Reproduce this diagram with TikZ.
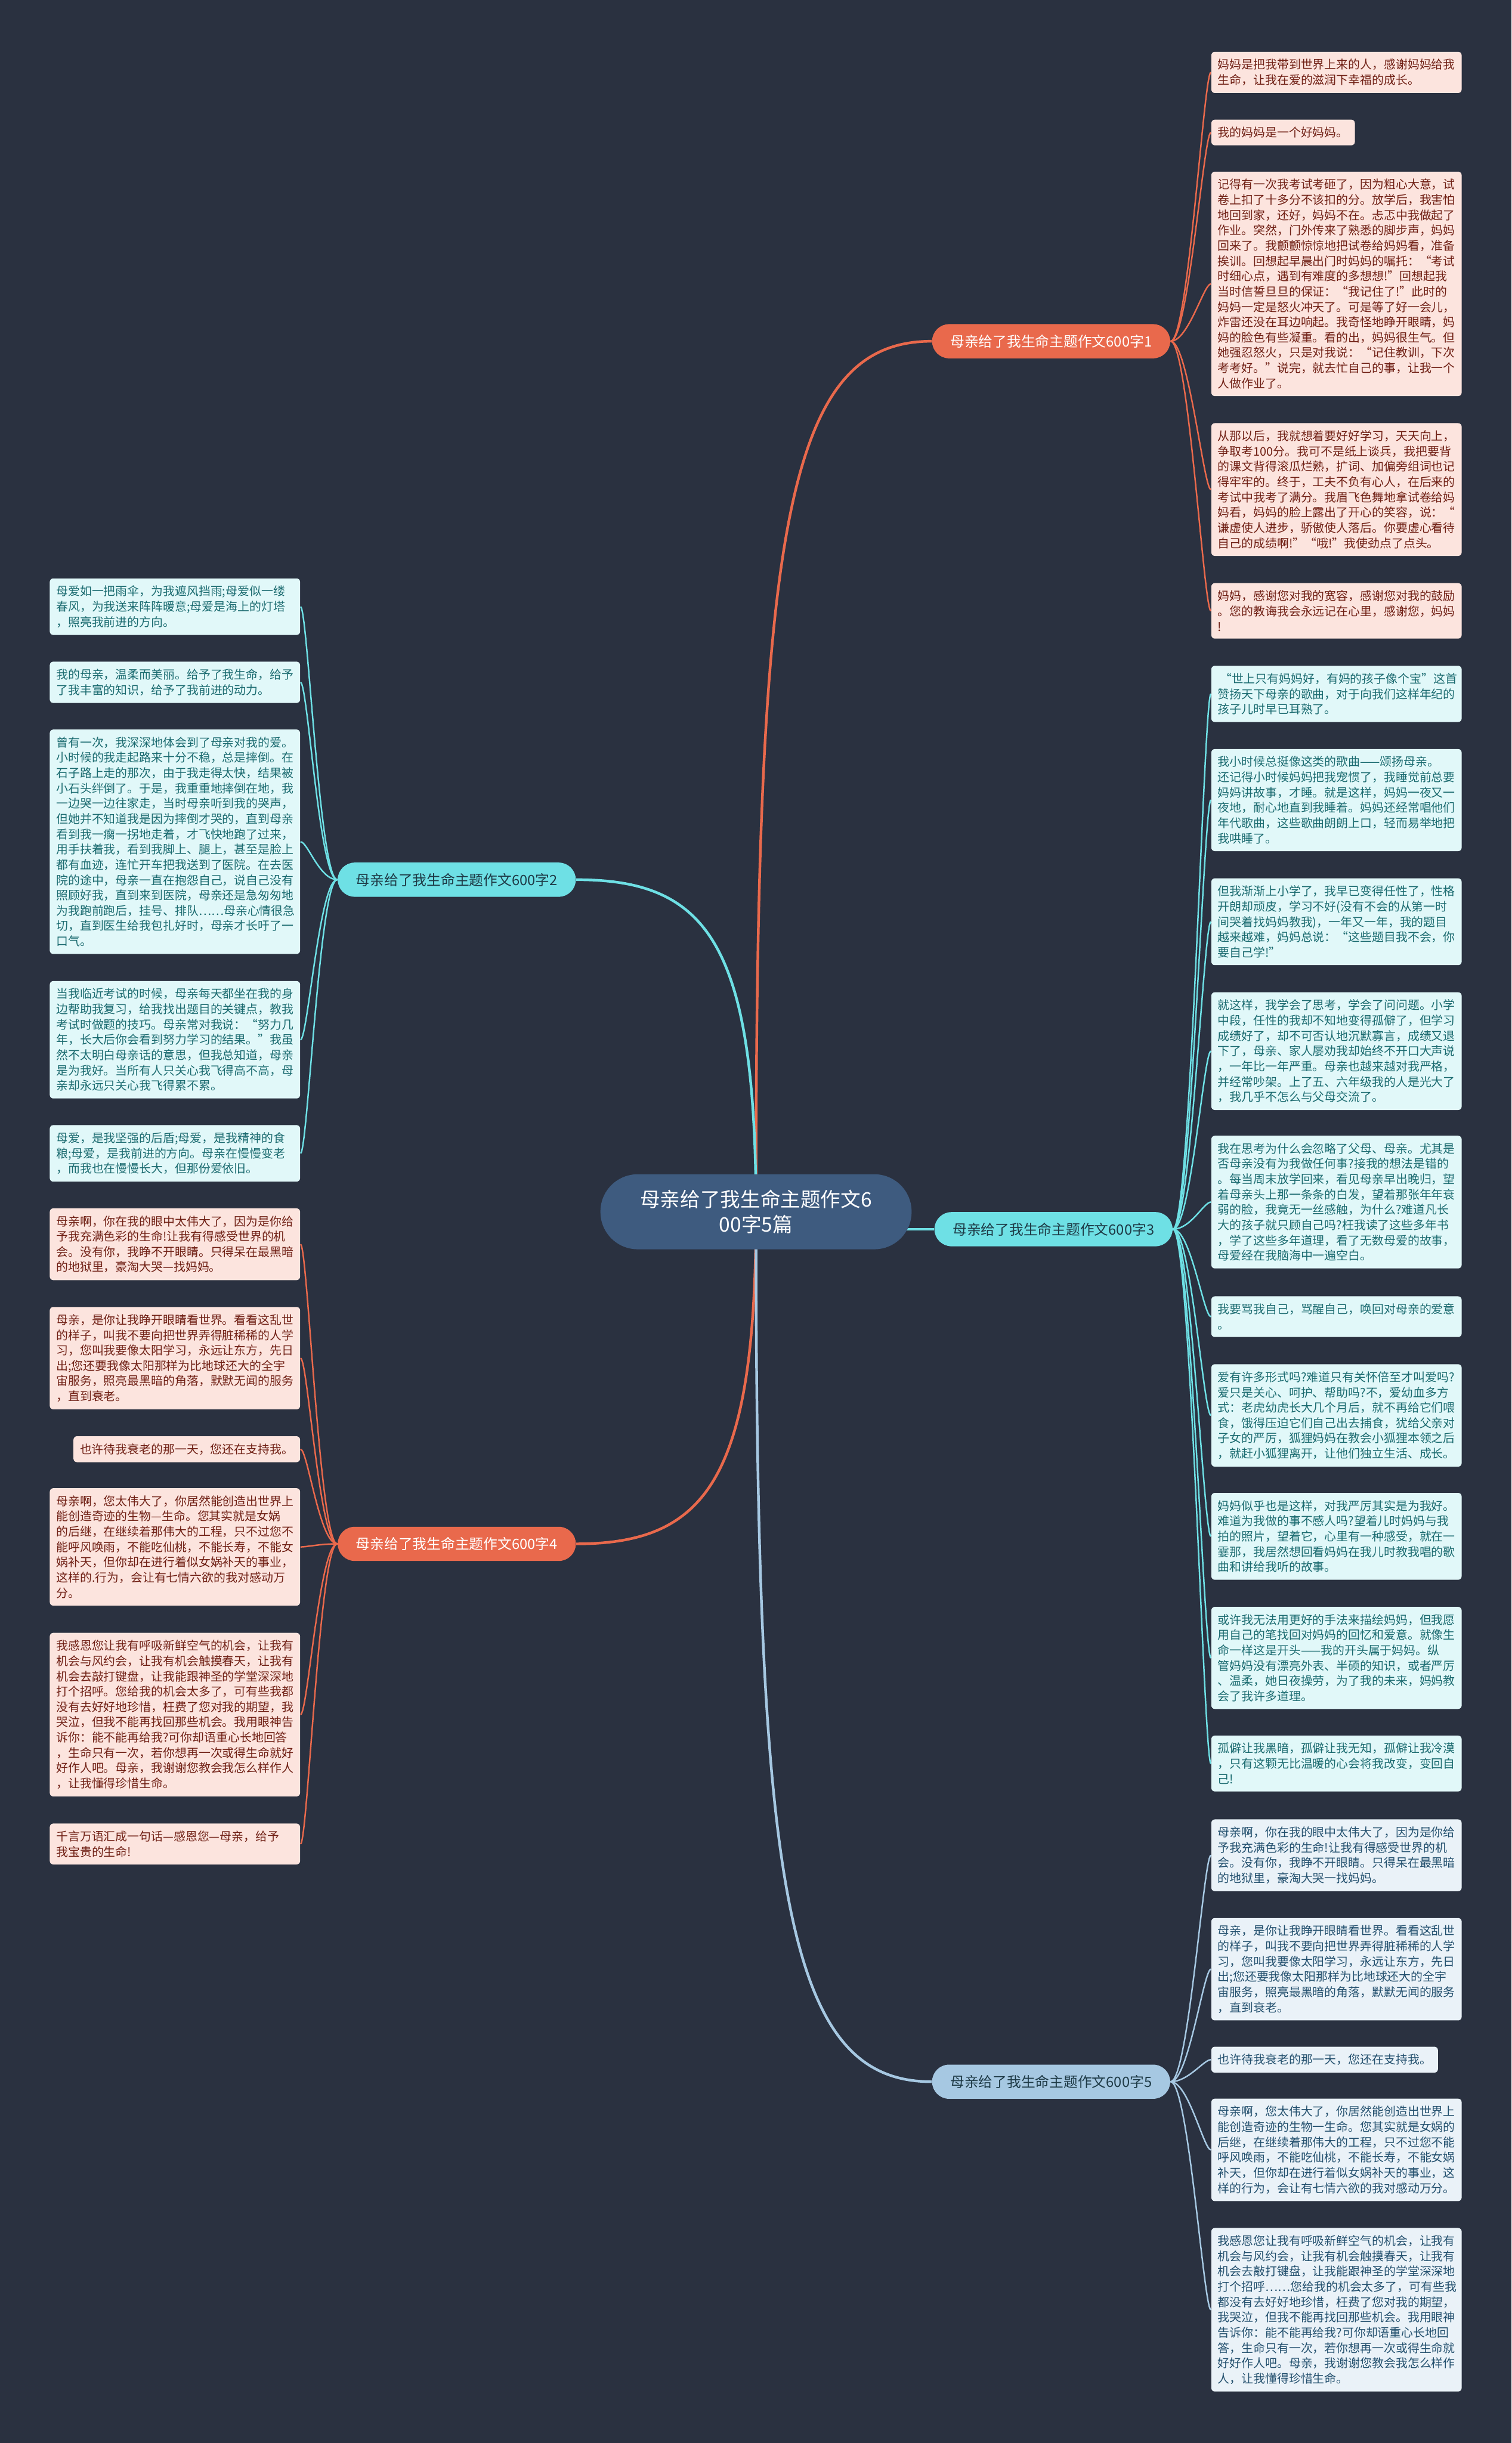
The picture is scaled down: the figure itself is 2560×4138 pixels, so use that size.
\documentclass[tikz,border=0pt]{standalone}
\usepackage{fontspec}
\newfontfamily\cjk{Noto Sans CJK SC}
\usetikzlibrary{positioning}

\definecolor{canvasbg}{HTML}{2A3140}
\definecolor{rootfill}{HTML}{3E5B7F}
\definecolor{redbranch}{HTML}{E9694C}
\definecolor{cyanbranch}{HTML}{6EE0E5}
\definecolor{bluebranch}{HTML}{A6C8E2}
\definecolor{pinkleaf}{HTML}{FCE4DE}
\definecolor{pinktext}{HTML}{702015}
\definecolor{cyanleaf}{HTML}{E1F8F9}
\definecolor{cyantext}{HTML}{1B6B70}
\definecolor{blueleaf}{HTML}{EAF2F8}
\definecolor{bluetext}{HTML}{23506E}
\definecolor{darktext}{HTML}{1E3A46}

\pgfdeclarelayer{bg}
\pgfdeclarelayer{edges}
\pgfsetlayers{bg,edges,main}

\tikzset{
  root/.style={fill=rootfill, text=white, rounded corners=6.3mm, minimum width=52.7mm,
    minimum height=12.7mm, align=center, font=\cjk\fontsize{9.67pt}{12.23pt}\selectfont},
  branch/.style={rounded corners=2.9mm, minimum height=5.8mm, inner xsep=3.1mm,
    font=\cjk\fontsize{6.83pt}{8pt}\selectfont},
  redbr/.style={branch, fill=redbranch, text=white},
  cyanbr/.style={branch, fill=cyanbranch, text=darktext},
  bluebr/.style={branch, fill=bluebranch, text=darktext},
  leaf/.style={rounded corners=0.6mm, inner xsep=1.1mm, inner ysep=1.24mm, align=left,
    font=\cjk\fontsize{5.72pt}{7.37pt}\selectfont},
  wide/.style={text width=40.2mm},
  pinkbox/.style={leaf, fill=pinkleaf, text=pinktext},
  cyanbox/.style={leaf, fill=cyanleaf, text=cyantext},
  bluebox/.style={leaf, fill=blueleaf, text=bluetext},
  mainlink/.style={line width=0.45mm},
  leaflink/.style={line width=0.25mm},
}

\begin{document}
\begin{tikzpicture}[x=0.1mm,y=-0.1mm]
\begin{pgfonlayer}{bg}
  \fill[canvasbg] (0,0) rectangle (2560,4138);
\end{pgfonlayer}
\useasboundingbox (0,0) rectangle (2560,4138);

% centre and branches
\node[root] (c) at (1280.5,2052.5) {母亲给了我生命主题作文6\\00字5篇};
\node[redbr, anchor=west] (b1) at (1578,578) {母亲给了我生命主题作文600字1};
\node[cyanbr, anchor=east] (b2) at (976,1490) {母亲给了我生命主题作文600字2};
\node[cyanbr, anchor=west] (b3) at (1582,2082) {母亲给了我生命主题作文600字3};
\node[redbr, anchor=east] (b4) at (976,2615) {母亲给了我生命主题作文600字4};
\node[bluebr, anchor=west] (b5) at (1578,3526) {母亲给了我生命主题作文600字5};

% branch 1 leaves
\node[pinkbox, wide, anchor=north west] (l1a) at (2051,87) {妈妈是把我带到世界上来的人，感谢妈妈给我\\
生命，让我在爱的滋润下幸福的成长。};
\node[pinkbox, anchor=north west] (l1b) at (2051,202) {我的妈妈是一个好妈妈。};
\node[pinkbox, wide, anchor=north west] (l1c) at (2051,290) {记得有一次我考试考砸了，因为粗心大意，试\\
卷上扣了十多分不该扣的分。放学后，我害怕\\
地回到家，还好，妈妈不在。忐忑中我做起了\\
作业。突然，门外传来了熟悉的脚步声，妈妈\\
回来了。我颤颤惊惊地把试卷给妈妈看，准备\\
挨训。回想起早晨出门时妈妈的嘱托：“考试\\
时细心点，遇到有难度的多想想!”回想起我\\
当时信誓旦旦的保证：“我记住了!”此时的\\
妈妈一定是怒火冲天了。可是等了好一会儿，\\
炸雷还没在耳边响起。我奇怪地睁开眼睛，妈\\
妈的脸色有些凝重。看的出，妈妈很生气。但\\
她强忍怒火，只是对我说：“记住教训，下次\\
考考好。”说完，就去忙自己的事，让我一个\\
人做作业了。};
\node[pinkbox, wide, anchor=north west] (l1d) at (2051,716) {从那以后，我就想着要好好学习，天天向上，\\
争取考100分。我可不是纸上谈兵，我把要背\\
的课文背得滚瓜烂熟，扩词、加偏旁组词也记\\
得牢牢的。终于，工夫不负有心人，在后来的\\
考试中我考了满分。我眉飞色舞地拿试卷给妈\\
妈看，妈妈的脸上露出了开心的笑容，说：“\\
谦虚使人进步，骄傲使人落后。你要虚心看待\\
自己的成绩啊!”“哦!”我使劲点了点头。};
\node[pinkbox, wide, anchor=north west] (l1e) at (2051,987) {妈妈，感谢您对我的宽容，感谢您对我的鼓励\\
。您的教诲我会永远记在心里，感谢您，妈妈\\
!};

% branch 3 leaves
\node[cyanbox, wide, anchor=north west] (l3a) at (2051,1127) {\,“世上只有妈妈好，有妈的孩子像个宝”这首\\
赞扬天下母亲的歌曲，对于向我们这样年纪的\\
孩子儿时早已耳熟了。};
\node[cyanbox, wide, anchor=north west] (l3b) at (2051,1268) {我小时候总挺像这类的歌曲——颂扬母亲。\\
还记得小时候妈妈把我宠惯了，我睡觉前总要\\
妈妈讲故事，才睡。就是这样，妈妈一夜又一\\
夜地，耐心地直到我睡着。妈妈还经常唱他们\\
年代歌曲，这些歌曲朗朗上口，轻而易举地把\\
我哄睡了。};
\node[cyanbox, wide, anchor=north west] (l3c) at (2051,1487) {但我渐渐上小学了，我早已变得任性了，性格\\
开朗却顽皮，学习不好(没有不会的从第一时\\
间哭着找妈妈教我)，一年又一年，我的题目\\
越来越难，妈妈总说：“这些题目我不会，你\\
要自己学!”};
\node[cyanbox, wide, anchor=north west] (l3d) at (2051,1680) {就这样，我学会了思考，学会了问问题。小学\\
中段，任性的我却不知地变得孤僻了，但学习\\
成绩好了，却不可否认地沉默寡言，成绩又退\\
下了，母亲、家人屡劝我却始终不开口大声说\\
，一年比一年严重。母亲也越来越对我严格，\\
并经常吵架。上了五、六年级我的人是光大了\\
，我几乎不怎么与父母交流了。};
\node[cyanbox, wide, anchor=north west] (l3e) at (2051,1923) {我在思考为什么会忽略了父母、母亲。尤其是\\
否母亲没有为我做任何事?接我的想法是错的\\
。每当周末放学回来，看见母亲早出晚归，望\\
着母亲头上那一条条的白发，望着那张年年衰\\
弱的脸，我竟无一丝感触，为什么?难道凡长\\
大的孩子就只顾自己吗?枉我读了这些多年书\\
，学了这些多年道理，看了无数母爱的故事，\\
母爱经在我脑海中一遍空白。};
\node[cyanbox, wide, anchor=north west] (l3f) at (2051,2195) {我要骂我自己，骂醒自己，唤回对母亲的爱意\\
。};
\node[cyanbox, wide, anchor=north west] (l3g) at (2051,2310) {爱有许多形式吗?难道只有关怀倍至才叫爱吗?\\
爱只是关心、呵护、帮助吗?不，爱幼血多方\\
式：老虎幼虎长大几个月后，就不再给它们喂\\
食，饿得压迫它们自己出去捕食，犹给父亲对\\
子女的严厉，狐狸妈妈在教会小狐狸本领之后\\
，就赶小狐狸离开，让他们独立生活、成长。};
\node[cyanbox, wide, anchor=north west] (l3h) at (2051,2528) {妈妈似乎也是这样，对我严厉其实是为我好。\\
难道为我做的事不感人吗?望着儿时妈妈与我\\
拍的照片，望着它，心里有一种感受，就在一\\
霎那，我居然想回看妈妈在我儿时教我唱的歌\\
曲和讲给我听的故事。};
\node[cyanbox, wide, anchor=north west] (l3i) at (2051,2721) {或许我无法用更好的手法来描绘妈妈，但我愿\\
用自己的笔找回对妈妈的回忆和爱意。就像生\\
命一样这是开头——我的开头属于妈妈。纵\\
管妈妈没有漂亮外表、半硕的知识，或者严厉\\
、温柔，她日夜操劳，为了我的未来，妈妈教\\
会了我许多道理。};
\node[cyanbox, wide, anchor=north west] (l3j) at (2051,2939) {孤僻让我黑暗，孤僻让我无知，孤僻让我冷漠\\
，只有这颗无比温暖的心会将我改变，变回自\\
己!};

% branch 5 leaves
\node[bluebox, wide, anchor=north west] (l5a) at (2051,3081) {母亲啊，你在我的眼中太伟大了，因为是你给\\
予我充满色彩的生命!让我有得感受世界的机\\
会。没有你，我睁不开眼睛。只得呆在最黑暗\\
的地狱里，豪淘大哭一找妈妈。};
\node[bluebox, wide, anchor=north west] (l5b) at (2051,3248) {母亲，是你让我睁开眼睛看世界。看看这乱世\\
的样子，叫我不要向把世界弄得脏稀稀的人学\\
习，您叫我要像太阳学习，永远让东方，先日\\
出;您还要我像太阳那样为比地球还大的全宇\\
宙服务，照亮最黑暗的角落，默默无闻的服务\\
，直到衰老。};
\node[bluebox, anchor=north west] (l5c) at (2051,3466) {也许待我衰老的那一天，您还在支持我。};
\node[bluebox, wide, anchor=north west] (l5d) at (2051,3554) {母亲啊，您太伟大了，你居然能创造出世界上\\
能创造奇迹的生物一生命。您其实就是女娲的\\
后继，在继续着那伟大的工程，只不过您不能\\
呼风唤雨，不能吃仙桃，不能长寿，不能女娲\\
补天，但你却在进行着似女娲补天的事业，这\\
样的行为，会让有七情六欲的我对感动万分。};
\node[bluebox, wide, anchor=north west] (l5e) at (2051,3773) {我感恩您让我有呼吸新鲜空气的机会，让我有\\
机会与风约会，让我有机会触摸春天，让我有\\
机会去敲打键盘，让我能跟神圣的学堂深深地\\
打个招呼……您给我的机会太多了，可有些我\\
都没有去好好地珍惜，枉费了您对我的期望，\\
我哭泣，但我不能再找回那些机会。我用眼神\\
告诉你：能不能再给我?可你却语重心长地回\\
答，生命只有一次，若你想再一次或得生命就\\
好好作人吧。母亲，我谢谢您教会我怎么样作\\
人，让我懂得珍惜生命。};

% branch 2 leaves
\node[cyanbox, wide, anchor=north east] (l2a) at (509,979) {母爱如一把雨伞，为我遮风挡雨;母爱似一缕\\
春风，为我送来阵阵暖意;母爱是海上的灯塔\\
，照亮我前进的方向。};
\node[cyanbox, wide, anchor=north east] (l2b) at (509,1120) {我的母亲，温柔而美丽。给予了我生命，给予\\
了我丰富的知识，给予了我前进的动力。};
\node[cyanbox, wide, anchor=north east] (l2c) at (509,1235) {曾有一次，我深深地体会到了母亲对我的爱。\\
小时候的我走起路来十分不稳，总是摔倒。在\\
石子路上走的那次，由于我走得太快，结果被\\
小石头绊倒了。于是，我重重地摔倒在地，我\\
一边哭一边往家走，当时母亲听到我的哭声，\\
但她并不知道我是因为摔倒才哭的，直到母亲\\
看到我一瘸一拐地走着，才飞快地跑了过来，\\
用手扶着我，看到我脚上、腿上，甚至是脸上\\
都有血迹，连忙开车把我送到了医院。在去医\\
院的途中，母亲一直在抱怨自己，说自己没有\\
照顾好我，直到来到医院，母亲还是急匆匆地\\
为我跑前跑后，挂号、排队……母亲心情很急\\
切，直到医生给我包扎好时，母亲才长吁了一\\
口气。};
\node[cyanbox, wide, anchor=north east] (l2d) at (509,1661) {当我临近考试的时候，母亲每天都坐在我的身\\
边帮助我复习，给我找出题目的关键点，教我\\
考试时做题的技巧。母亲常对我说：“努力几\\
年，长大后你会看到努力学习的结果。”我虽\\
然不太明白母亲话的意思，但我总知道，母亲\\
是为我好。当所有人只关心我飞得高不高，母\\
亲却永远只关心我飞得累不累。};
\node[cyanbox, wide, anchor=north east] (l2e) at (509,1905) {母爱，是我坚强的后盾;母爱，是我精神的食\\
粮;母爱，是我前进的方向。母亲在慢慢变老\\
，而我也在慢慢长大，但那份爱依旧。};

% branch 4 leaves
\node[pinkbox, wide, anchor=north east] (l4a) at (509,2046) {母亲啊，你在我的眼中太伟大了，因为是你给\\
予我充满色彩的生命!让我有得感受世界的机\\
会。没有你，我睁不开眼睛。只得呆在最黑暗\\
的地狱里，豪淘大哭—找妈妈。};
\node[pinkbox, wide, anchor=north east] (l4b) at (509,2213) {母亲，是你让我睁开眼睛看世界。看看这乱世\\
的样子，叫我不要向把世界弄得脏稀稀的人学\\
习，您叫我要像太阳学习，永远让东方，先日\\
出;您还要我像太阳那样为比地球还大的全宇\\
宙服务，照亮最黑暗的角落，默默无闻的服务\\
，直到衰老。};
\node[pinkbox, anchor=north east] (l4c) at (509,2432) {也许待我衰老的那一天，您还在支持我。};
\node[pinkbox, wide, anchor=north east] (l4d) at (509,2520) {母亲啊，您太伟大了，你居然能创造出世界上\\
能创造奇迹的生物—生命。您其实就是女娲\\
的后继，在继续着那伟大的工程，只不过您不\\
能呼风唤雨，不能吃仙桃，不能长寿，不能女\\
娲补天，但你却在进行着似女娲补天的事业，\\
这样的.行为，会让有七情六欲的我对感动万\\
分。};
\node[pinkbox, wide, anchor=north east] (l4e) at (509,2765) {我感恩您让我有呼吸新鲜空气的机会，让我有\\
机会与风约会，让我有机会触摸春天，让我有\\
机会去敲打键盘，让我能跟神圣的学堂深深地\\
打个招呼。您给我的机会太多了，可有些我都\\
没有去好好地珍惜，枉费了您对我的期望，我\\
哭泣，但我不能再找回那些机会。我用眼神告\\
诉你：能不能再给我?可你却语重心长地回答\\
，生命只有一次，若你想再一次或得生命就好\\
好作人吧。母亲，我谢谢您教会我怎么样作人\\
，让我懂得珍惜生命。};
\node[pinkbox, wide, anchor=north east] (l4f) at (509,3088) {千言万语汇成一句话—感恩您—母亲，给予\\
我宝贵的生命!};

% connectors
\begin{pgfonlayer}{edges}
  \draw[mainlink, redbranch] (c.center) .. controls (1280,900) and (1330,578) .. (b1.west);
  \draw[mainlink, cyanbranch] (c.center) .. controls (1280,1600) and (1200,1490) .. (b2.east);
  \draw[mainlink, cyanbranch] (c.center |- b3.west) -- (b3.west);
  \draw[mainlink, redbranch] (c.center) .. controls (1280,2500) and (1200,2615) .. (b4.east);
  \draw[mainlink, bluebranch] (c.center) .. controls (1280,3200) and (1330,3526) .. (b5.west);
  \foreach \n in {l1a,l1b,l1c,l1d,l1e}
    \draw[leaflink, redbranch] (b1.east) .. controls +(30,0) and +(-12,0) .. (\n.west);
  \foreach \n in {l3a,l3b,l3c,l3d,l3e,l3f,l3g,l3h,l3i,l3j}
    \draw[leaflink, cyanbranch] (b3.east) .. controls +(30,0) and +(-12,0) .. (\n.west);
  \foreach \n in {l5a,l5b,l5c,l5d,l5e}
    \draw[leaflink, bluebranch] (b5.east) .. controls +(30,0) and +(-12,0) .. (\n.west);
  \foreach \n in {l2a,l2b,l2c,l2d,l2e}
    \draw[leaflink, cyanbranch] (b2.west) .. controls +(-30,0) and +(12,0) .. (\n.east);
  \foreach \n in {l4a,l4b,l4c,l4d,l4e,l4f}
    \draw[leaflink, redbranch] (b4.west) .. controls +(-30,0) and +(12,0) .. (\n.east);
\end{pgfonlayer}
\end{tikzpicture}
\end{document}
